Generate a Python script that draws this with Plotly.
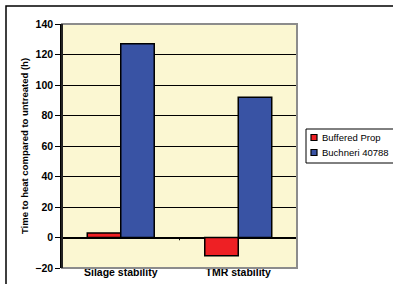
import plotly.graph_objects as go

categories = ["Silage stability", "TMR stability"]
buffered_prop = [3, -12]
buchneri = [127, 92]
series_names = ["Buffered Prop", "Buchneri 40788"]
series_colors = ["#EE2024", "#3953A4"]
y_ticks = [-20, 0, 20, 40, 60, 80, 100, 120, 140]

fig = go.Figure()
for name, vals, col in zip(series_names, [buffered_prop, buchneri], series_colors):
    fig.add_trace(go.Bar(x=categories, y=vals, name=name, showlegend=False,
                         marker=dict(color=col, line=dict(color="black", width=1.5))))

W, H = 393, 284
L, R, T, B = 62, 96, 24, 16
pw, ph = W - L - R, H - T - B

def px_x(p):
    return (p - L) / pw

def px_y(p):
    return (H - B - p) / ph

shapes = [
    dict(type="rect", xref="paper", yref="paper", x0=0, x1=1, y0=0, y1=1,
         line=dict(color="#8C8C8C", width=2), layer="above"),
    dict(type="line", xref="paper", yref="paper", x0=0, x1=0, y0=0, y1=1,
         line=dict(color="black", width=1.5), layer="above"),
    dict(type="line", xref="x", yref="y", x0=0.5, x1=0.5, y0=0, y1=-1.8,
         line=dict(color="black", width=1)),
    dict(type="rect", xref="paper", yref="paper", x0=px_x(6), x1=px_x(W + 20),
         y0=px_y(H + 20), y1=px_y(6), line=dict(color="black", width=1.5)),
    # legend box
    dict(type="rect", xref="paper", yref="paper", x0=px_x(306), x1=px_x(W + 20),
         y0=px_y(163), y1=px_y(129), line=dict(color="black", width=1),
         fillcolor="white"),
]
annotations = []
legend_rows = [137.5, 152.5]
for name, col, yc in zip(series_names, series_colors, legend_rows):
    shapes.append(dict(type="rect", xref="paper", yref="paper",
                       x0=px_x(311), x1=px_x(317), y0=px_y(yc + 3), y1=px_y(yc - 3),
                       line=dict(color="black", width=1.2), fillcolor=col))
    annotations.append(dict(text=name, xref="paper", yref="paper", x=px_x(319.5),
                            y=px_y(yc), xanchor="left", yanchor="middle",
                            showarrow=False, font=dict(size=9.5)))

fig.update_layout(
    width=W, height=H,
    margin=dict(l=L, r=R, t=T, b=B, autoexpand=False),
    paper_bgcolor="white",
    plot_bgcolor="#FBF7D2",
    barmode="group",
    bargap=0.43,
    bargroupgap=0,
    font=dict(family="Liberation Sans, Arial", size=9, color="black"),
    showlegend=False,
    xaxis=dict(showgrid=False, showline=False, ticks="", zeroline=False,
               tickfont=dict(size=10.5, weight="bold"), ticklabelstandoff=-4),
    yaxis=dict(range=[-20, 140], tickvals=y_ticks, showgrid=True, gridcolor="black",
               gridwidth=1, zeroline=True, zerolinecolor="black", zerolinewidth=1.5,
               showline=True, linecolor="black", linewidth=1.5, ticks="outside",
               ticklen=5, tickcolor="black",
               tickfont=dict(size=10.5, weight="bold"),
               title=dict(text="Time to heat compared to untreated (h)",
                          font=dict(size=9.5, weight="bold"), standoff=5)),
    shapes=shapes,
    annotations=annotations,
)

fig.write_html("out.html", config={"displayModeBar": False},
               post_script="document.body.style.margin='0';document.body.style.overflow='hidden';")
